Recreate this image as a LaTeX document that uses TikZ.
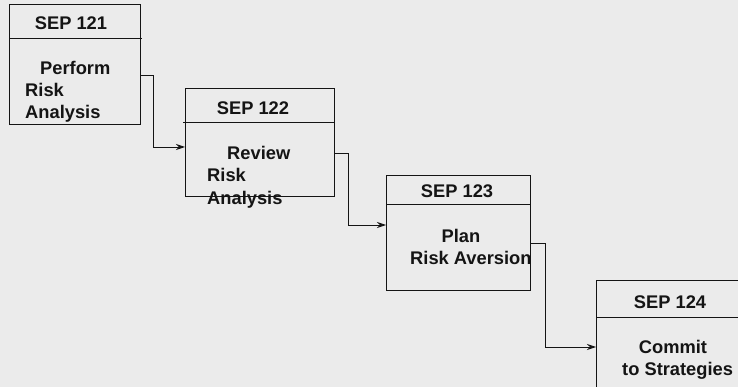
\documentclass[tikz,border=0pt]{standalone}
\usepackage{fontspec}
\setmainfont{Liberation Sans}
\usetikzlibrary{arrows.meta}
\definecolor{bgcol}{RGB}{235,235,235}
\definecolor{ink}{RGB}{20,20,20}
\begin{document}
\begin{tikzpicture}[x=1pt,y=-1pt,
  box/.style={draw=ink,line width=1pt,inner sep=0pt,anchor=north west},
  rule/.style={draw=ink,line width=1pt},
  title/.style={font=\fontsize{18.3}{22}\selectfont\bfseries,text=ink,inner sep=0pt,anchor=base},
  body/.style={font=\fontsize{18.3}{22}\selectfont\bfseries,text=ink,inner sep=0pt,anchor=base west},
  bodyc/.style={body,anchor=base},
  link/.style={draw=ink,line width=0.9pt,-{Stealth[length=9pt,width=6pt,inset=3pt]}}]
  \fill[bgcol] (0,0) rectangle (738,387);
  \useasboundingbox (0,0) rectangle (738,387);
  \clip (0,0) rectangle (738,387);

  % SEP 121
  \node[box,minimum width=131pt,minimum height=120pt] (b1) at (9,4) {};
  \draw[rule] (b1.west |- 0,39) -- (142,39);
  \node[title] (h1) at (71,30) {SEP 121};
  \node[body] (t1a) at (40,75) {Perform};
  \node[body] (t1b) at (25,97) {Risk};
  \node[body] (t1c) at (25,119) {Analysis};

  % SEP 122
  \node[box,minimum width=149pt,minimum height=108pt] (b2) at (185,88) {};
  \draw[rule] (183,123) -- (b2.east |- 0,123);
  \node[title] (h2) at (253,115) {SEP 122};
  \node[body] (t2a) at (227,160) {Review};
  \node[body] (t2b) at (207,182) {Risk};
  \node[body] (t2c) at (207,205) {Analysis};

  % SEP 123
  \node[box,minimum width=144pt,minimum height=115pt] (b3) at (386,175) {};
  \draw[rule] (b3.west |- 0,205) -- (b3.east |- 0,205);
  \node[title] (h3) at (457,198) {SEP 123};
  \node[bodyc] (t3a) at (461,242) {Plan};
  \node[body] (t3b) at (410,264) {Risk Aversion};

  % SEP 124
  \node[box,minimum width=160pt,minimum height=130pt] (b4) at (596,280) {};
  \draw[rule] (b4.west |- 0,317) -- (b4.east |- 0,317);
  \node[title] (h4) at (670,308) {SEP 124};
  \node[bodyc] (t4a) at (673,353) {Commit};
  \node[body] (t4b) at (622,375) {to Strategies};

  % connectors
  \draw[link] (b1.east |- 0,75) -| (153,147) -- (b2.west |- 0,147);
  \draw[link] (b2.east |- 0,153) -| (348,225) -- (b3.west |- 0,225);
  \draw[link] (b3.east |- 0,243) -| (545,347) -- (b4.west |- 0,347);
\end{tikzpicture}
\end{document}
